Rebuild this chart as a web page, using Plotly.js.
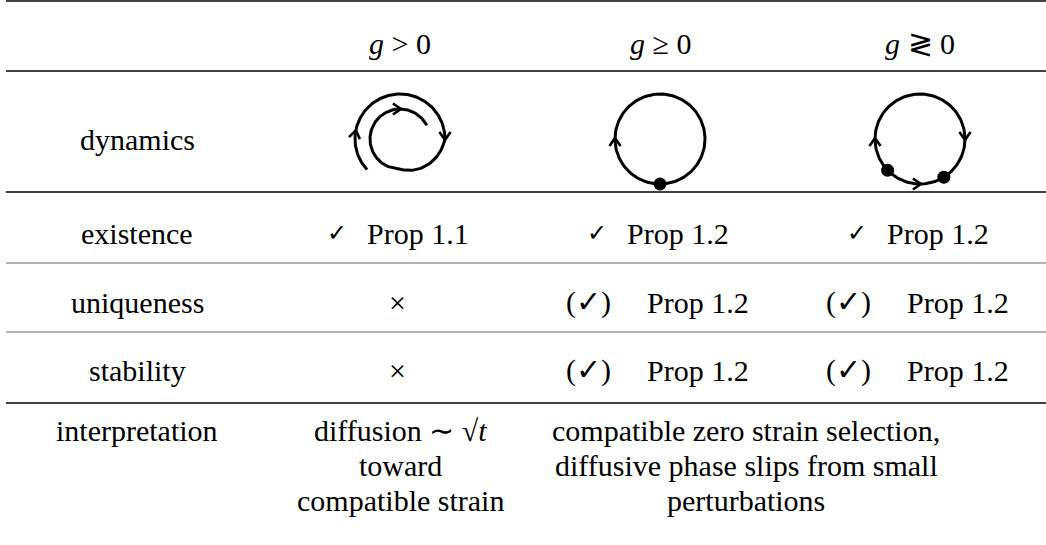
<!DOCTYPE html>
<html>
<head>
<meta charset="utf-8">
<script src="https://cdn.plot.ly/plotly-3.0.1.min.js"></script>
<style>
html,body{margin:0;padding:0;background:#fff;}
#chart{width:1046px;height:545px;}
#chart text{font-family:'Liberation Serif', 'Times New Roman', serif !important;}
</style>
</head>
<body>
<div id="chart"></div>
<script>
// ---- table content ----
const headers = ['<i>g</i> > 0', '<i>g</i> ≥ 0', '<i>g</i> ≷ 0'];
const rowLabels = ['dynamics', 'existence', 'uniqueness', 'stability', 'interpretation'];
const existenceMark = ['✓', '✓', '✓'];
const existenceRef = ['Prop 1.1', 'Prop 1.2', 'Prop 1.2'];
const uniquenessMark = ['×', '(✓)', '(✓)'];
const uniquenessRef = ['', 'Prop 1.2', 'Prop 1.2'];
const stabilityMark = ['×', '(✓)', '(✓)'];
const stabilityRef = ['', 'Prop 1.2', 'Prop 1.2'];
const interpretationCol1 = ['diffusion ∼ √<i>t</i>', 'toward', 'compatible strain'];
const interpretationCol23 = ['compatible zero strain selection,', 'diffusive phase slips from small', 'perturbations'];
// dynamics diagrams: fixed points and arrows (angles in degrees, clockwise on screen)
const fixedPoints = [[], [90], [136, 58]];
const arrowAngles = [[190, 360, 630], [180], [180, 0, 90]];
const arrowDirs = [[1, 1, 1], [1], [1, 1, -1]];

// ---- layout geometry ----
const colX = [400, 660, 920];
const labelX = 137;
const rowY = {header: 43, dynamics: 139, existence: 233, uniqueness: 302, stability: 370, interp: [430, 465, 500]};
const R = 45;
function mkFont(size) { return {family: 'Liberation Serif', size: size || 30, color: '#000'}; }

const annotations = [];
function txt(x, y, text, size) {
  annotations.push({x: x, y: y, xref: 'x', yref: 'y', text: text, showarrow: false,
    xanchor: 'center', yanchor: 'middle', font: mkFont(size)});
}
headers.forEach((h, i) => txt(colX[i], rowY.header, h));
txt(labelX, rowY.dynamics, rowLabels[0]);
txt(labelX, rowY.existence, rowLabels[1]);
txt(labelX, rowY.uniqueness, rowLabels[2]);
txt(labelX, rowY.stability, rowLabels[3]);
txt(labelX, rowY.interp[0], rowLabels[4]);

function markRef(marks, refs, y) {
  marks.forEach((m, i) => {
    if (!refs[i]) { txt(colX[i] - 3, y, m); return; }
    const paren = m.length > 1;
    if (paren) {
      txt(colX[i] - 72, y, m);
      txt(colX[i] + 38, y, refs[i]);
    } else {
      txt(colX[i] - 63, y, m, 24);
      txt(colX[i] + 18, y, refs[i]);
    }
  });
}
markRef(existenceMark, existenceRef, rowY.existence);
markRef(uniquenessMark, uniquenessRef, rowY.uniqueness);
markRef(stabilityMark, stabilityRef, rowY.stability);
interpretationCol1.forEach((t, k) => txt(colX[0], rowY.interp[k], t));
interpretationCol23.forEach((t, k) => txt(746, rowY.interp[k], t));

// horizontal rules
const rules = [[1, 2.2, '#444'], [71, 1.4, '#000'], [192, 1.4, '#000'], [263, 1.1, '#666'], [332, 1.1, '#666'], [403, 1.4, '#000']];
const shapes = rules.map(r => ({type: 'line', xref: 'x', yref: 'y', x0: 6, x1: 1046, y0: r[0], y1: r[0], line: {color: r[2], width: r[1]}}));

// diagrams
const traces = [];
const rad = d => d * Math.PI / 180;
function radiusAt(ci, th) {
  if (ci !== 0) return R;
  if (th <= 360) return 45;
  if (th <= 450) return 45 - 15 * (th - 360) / 90;
  return 30;
}
function pathTrace(ci, th0, th1) {
  const xs = [], ys = [];
  for (let th = th0; th <= th1 + 1e-9; th += 2) {
    const r = radiusAt(ci, th);
    xs.push(colX[ci] + r * Math.cos(rad(th)));
    ys.push(rowY.dynamics + r * Math.sin(rad(th)));
  }
  traces.push({x: xs, y: ys, mode: 'lines', line: {color: '#000', width: 3}, hoverinfo: 'skip', showlegend: false});
}
pathTrace(0, 137, 693);
pathTrace(1, 0, 360);
pathTrace(2, 0, 360);
arrowAngles.forEach((arr, ci) => arr.forEach((th, k) => {
  const r = radiusAt(ci, th);
  const px = colX[ci] + r * Math.cos(rad(th)), py = rowY.dynamics + r * Math.sin(rad(th));
  const s = arrowDirs[ci][k];
  const dx = -Math.sin(rad(th)) * s, dy = Math.cos(rad(th)) * s;
  const L = 9, a = rad(38);
  const w1x = px - L * (dx * Math.cos(a) - dy * Math.sin(a)), w1y = py - L * (dx * Math.sin(a) + dy * Math.cos(a));
  const w2x = px - L * (dx * Math.cos(-a) - dy * Math.sin(-a)), w2y = py - L * (dx * Math.sin(-a) + dy * Math.cos(-a));
  traces.push({x: [w1x, px + dx, w2x], y: [w1y, py + dy, w2y], mode: 'lines', line: {color: '#000', width: 2.6}, hoverinfo: 'skip', showlegend: false});
}));
fixedPoints.forEach((arr, ci) => {
  if (!arr.length) return;
  traces.push({x: arr.map(th => colX[ci] + R * Math.cos(rad(th))), y: arr.map(th => rowY.dynamics + R * Math.sin(rad(th))),
    mode: 'markers', marker: {color: '#000', size: 13}, hoverinfo: 'skip', showlegend: false});
});

const layout = {
  width: 1046, height: 545, margin: {l: 0, r: 0, t: 0, b: 0}, showlegend: false,
  xaxis: {range: [0, 1046], visible: false},
  yaxis: {range: [545, 0], visible: false},
  annotations: annotations, shapes: shapes
};
Plotly.newPlot('chart', traces, layout, {staticPlot: true});
</script>
</body>
</html>
